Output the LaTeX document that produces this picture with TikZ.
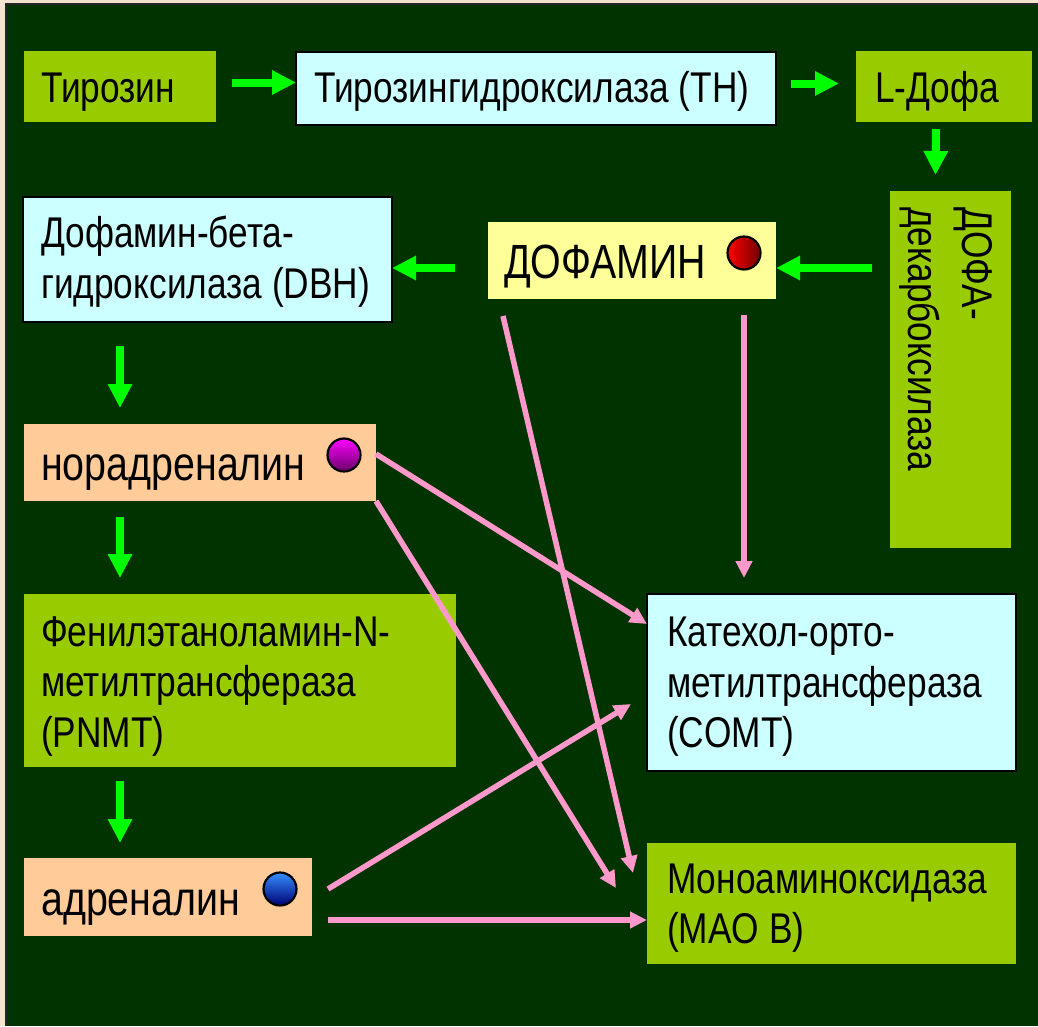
\documentclass[tikz,border=0pt]{standalone}
\usepackage{fontspec}
\setmainfont{Liberation Sans}[FakeStretch=0.82]
\usetikzlibrary{arrows.meta}
\definecolor{bgtan}{HTML}{F3E4CE}
\definecolor{bggreen}{HTML}{003300}
\definecolor{lime}{HTML}{99CC00}
\definecolor{lcyan}{HTML}{CCFFFF}
\definecolor{lyellow}{HTML}{FFFF99}
\definecolor{peach}{HTML}{FFCC99}
\definecolor{pinkarr}{HTML}{FF99CC}
\definecolor{greenarr}{HTML}{00FF00}
\begin{document}
\begin{tikzpicture}[x=1pt,y=-1pt,
  box/.style={rectangle, anchor=north west, inner sep=0pt, outer sep=0pt},
  limebox/.style={box, fill=lime},
  cyanbox/.style={box, fill=lcyan, draw=black, line width=2.5pt},
  yelbox/.style={box, fill=lyellow},
  peachbox/.style={box, fill=peach},
  txt/.style={anchor=base west, inner sep=0pt, text=black, font=\fontsize{43}{50}\selectfont},
  bigtxt/.style={txt, font=\fontsize{48}{56}\selectfont},
  garrow/.style={draw=greenarr, line width=8pt, -{Triangle[length=24pt,width=23pt]}, color=greenarr},
  parrow/.style={draw=pinkarr, line width=5.5pt, -{Triangle[length=17pt,width=16pt]}, color=pinkarr},
  dot/.style={circle, minimum size=33pt, inner sep=0pt, draw=black, line width=2.2pt}
]
\useasboundingbox (0,0) rectangle (1038,1026);
\fill[bgtan] (0,0) rectangle (1038,1026);
\fill[bggreen] (6,4) rectangle (1038,1026);
\draw[line width=1.5pt, black!85] (6,1026) -- (6,4) -- (1038,4);

% boxes
\node[limebox, minimum width=192pt, minimum height=71pt] (tyr) at (24,51) {};
\node[cyanbox, minimum width=480pt, minimum height=73pt] (th) at (296,52) {};
\node[limebox, minimum width=176pt, minimum height=71pt] (ldopa) at (856,51) {};
\node[limebox, minimum width=121pt, minimum height=357pt] (ddc) at (890,191) {};
\node[yelbox, minimum width=288pt, minimum height=77pt] (dopamine) at (488,222) {};
\node[cyanbox, minimum width=369pt, minimum height=125pt] (dbh) at (23,197) {};
\node[peachbox, minimum width=352pt, minimum height=77pt] (nor) at (24,424) {};
\node[limebox, minimum width=432pt, minimum height=173pt] (pnmt) at (24,594) {};
\node[peachbox, minimum width=288pt, minimum height=78pt] (adr) at (24,858) {};
\node[cyanbox, minimum width=369pt, minimum height=177pt] (comt) at (647,594) {};
\node[limebox, minimum width=369pt, minimum height=121pt] (mao) at (647,843) {};

% texts
\node[txt] (tyr-t) at (41,102) {Тирозин};
\node[txt] (th-t) at (314,102) {Тирозингидроксилаза (TH)};
\node[txt] (ldopa-t) at (875,102) {L-Дофа};
\node[bigtxt] (dop-t) at (504,278) {ДОФАМИН};
\node[txt] (dbh-t1) at (41,247) {Дофамин-бета-};
\node[txt] (dbh-t2) at (41,298) {гидроксилаза (DBH)};
\node[bigtxt] (nor-t) at (41,480) {норадреналин};
\node[txt] (pnmt-t1) at (41,646) {Фенилэтаноламин-N-};
\node[txt] (pnmt-t2) at (41,696) {метилтрансфераза};
\node[txt] (pnmt-t3) at (41,747) {(PNMT)};
\node[bigtxt] (adr-t) at (41,915) {адреналин};
\node[txt] (comt-t1) at (667,646) {Катехол-орто-};
\node[txt] (comt-t2) at (667,697) {метилтрансфераза};
\node[txt] (comt-t3) at (667,747) {(COMT)};
\node[txt] (mao-t1) at (667,893) {Моноаминоксидаза};
\node[txt] (mao-t2) at (667,943) {(MAO B)};
\node[txt, rotate=-90] (ddc-t1) at (962,207) {ДОФА-};
\node[txt, rotate=-90] (ddc-t2) at (908,207) {декарбоксилаза};

% dots
\node[dot, left color=red, right color=red!45!black] (dot-dop) at (744,253) {};
\node[dot, top color=magenta, bottom color=magenta!40!black] (dot-nor) at (344,455) {};
\node[dot, top color=blue!55!cyan!80!white, bottom color=blue!45!black] (dot-adr) at (280,889) {};

% green arrows
\draw[garrow] ([shift={(16,-4)}]tyr.east) -- ([shift={(0,-6)}]th.west);
\draw[garrow] ([shift={(15,-5)}]th.east) -- ([shift={(-17,-3)}]ldopa.west);
\draw[garrow] ([shift={(-8,7)}]ldopa.south) -- ([shift={(-15,-16)}]ddc.north);
\draw[garrow] ([shift={(-18,77)}]ddc.north west) -- ([shift={(0,7.5)}]dopamine.east);
\draw[garrow] ([shift={(-33,7.5)}]dopamine.west) -- ([shift={(0,8.5)}]dbh.east);
\draw[garrow] ([shift={(97,24)}]dbh.south west) -- ([shift={(96,-16)}]nor.north west);
\draw[garrow] ([shift={(96,16)}]nor.south west) -- ([shift={(96,-16)}]pnmt.north west);
\draw[garrow] ([shift={(96,14)}]pnmt.south west) -- ([shift={(96,-15)}]adr.north west);

% pink arrows
\draw[parrow] ([shift={(-32,16)}]dopamine.south east) -- ([shift={(97,-16)}]comt.north west);
\draw[parrow] ([shift={(15,17)}]dopamine.south west) -- ([shift={(-14,30)}]mao.north west);
\draw[parrow] ([shift={(0,30)}]nor.north east) -- ([shift={(0,30)}]comt.north west);
\draw[parrow] (nor.south east) -- ([shift={(-31,45)}]mao.north west);
\draw[parrow] ([shift={(16,31)}]adr.north east) -- ([shift={(-16,110)}]comt.north west);
\draw[parrow] ([shift={(16,62)}]adr.north east) -- ([shift={(0,77)}]mao.north west);
\end{tikzpicture}
\end{document}
